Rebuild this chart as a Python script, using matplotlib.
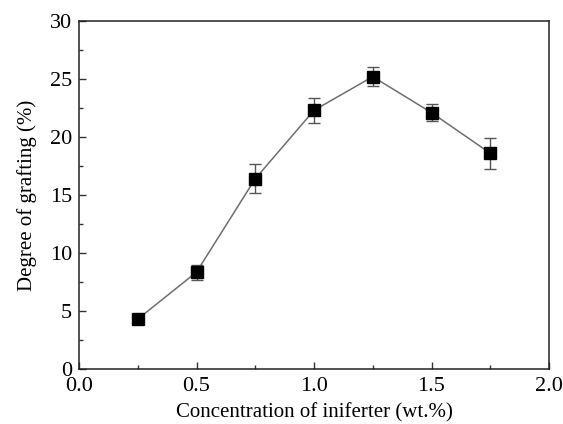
import matplotlib
matplotlib.use('Agg')
import matplotlib.pyplot as plt
from matplotlib.ticker import MultipleLocator

# data
conc = [0.25, 0.5, 0.75, 1.0, 1.25, 1.5, 1.75]
grafting = [4.3, 8.35, 16.4, 22.3, 25.2, 22.1, 18.6]
err = [0.3, 0.65, 1.25, 1.1, 0.83, 0.73, 1.35]

plt.rcParams['font.family'] = ['Liberation Serif', 'DejaVu Serif']

fig = plt.figure(figsize=(5.63, 4.24), dpi=100)
ax = fig.add_axes([79 / 563, 1 - 369 / 424, 470 / 563, 348 / 424])

ax.errorbar(conc, grafting, yerr=err, fmt='none', ecolor='#555555',
            elinewidth=1.0, capsize=4, capthick=1.0, zorder=2)
ax.plot(conc, grafting, color='#6e6e6e', lw=1.1, zorder=1)
ax.plot(conc, grafting, 's', color='black', ms=8.5, zorder=3)

ax.set_xlim(0, 2.0)
ax.set_ylim(0, 30)
ax.xaxis.set_major_locator(MultipleLocator(0.5))
ax.xaxis.set_minor_locator(MultipleLocator(0.25))
ax.yaxis.set_major_locator(MultipleLocator(5))
ax.yaxis.set_minor_locator(MultipleLocator(2.5))
ax.tick_params(which='both', direction='in', top=False, right=False,
               labelsize=16, width=1.0, color='#333333')
ax.tick_params(which='major', length=5)
ax.tick_params(which='minor', length=3)
ax.tick_params(axis='x', which='major', pad=6)
ax.tick_params(axis='y', which='major', pad=5)
ax.xaxis.set_major_formatter(plt.FuncFormatter(lambda v, p: '%.1f' % v))
for s in ax.spines.values():
    s.set_linewidth(1.1)
    s.set_color('#222222')

ax.set_xlabel('Concentration of iniferter (wt.%)', fontsize=15, labelpad=5)
ax.set_ylabel('Degree of grafting (%)', fontsize=15, labelpad=9)

fig.savefig('out.png', dpi=100)
